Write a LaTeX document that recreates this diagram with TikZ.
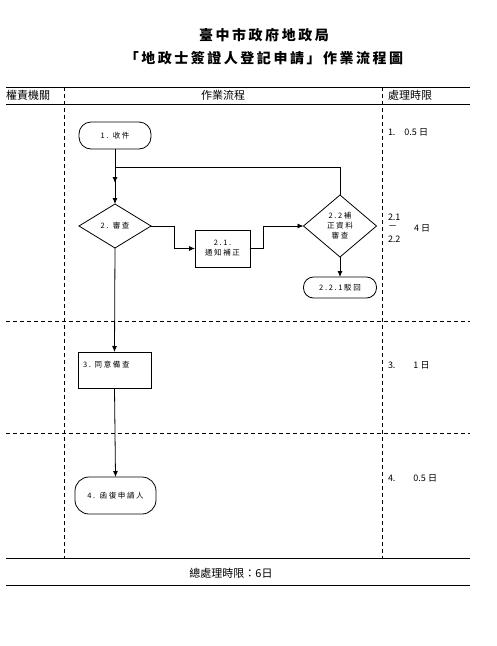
\documentclass[tikz,border=0pt]{standalone}
\usepackage{fontspec}
\setmainfont{Noto Sans CJK TC}
\newfontfamily\titlefont{Noto Sans CJK TC}[LetterSpace=18]
\newfontfamily\boxfont{Noto Sans CJK TC}[LetterSpace=22]
\usetikzlibrary{shapes.geometric,arrows.meta}
\begin{document}
\begin{tikzpicture}[x=1pt,y=-1pt,
  every node/.style={inner sep=0pt,outer sep=0pt},
  tline/.style={line width=0.8pt},
  dline/.style={line width=0.8pt,dash pattern=on 4pt off 3pt},
  conn/.style={line width=0.8pt},
  arr/.style={conn,-{Latex[length=6pt,width=5pt]}},
  bx/.style={draw,line width=0.8pt,font=\boxfont\fontsize{7.5}{10}\selectfont,align=center},
  term/.style={bx,rounded corners=12pt},
  dia/.style={bx,diamond,inner sep=0pt},
  htext/.style={font=\fontsize{11}{13}\selectfont},
  ttext/.style={font=\fontsize{9}{11}\selectfont,anchor=west}]
\useasboundingbox (0,0) rectangle (497,646);
% title
\node[font=\titlefont\bfseries\fontsize{14}{16}\selectfont] (t1) at (264,35) {臺中市政府地政局};
\node[font=\titlefont\bfseries\fontsize{14}{16}\selectfont] (t2) at (264,58) {「地政士簽證人登記申請」作業流程圖};
% table
\draw[tline] (6,87) -- (470,87);
\draw[tline] (6,104) -- (470,104);
\draw[tline] (6,558) -- (470,558);
\draw[tline] (6,585) -- (470,585);
\draw[dline] (64,87) -- (64,558);
\draw[dline] (382,87) -- (382,558);
\draw[dline] (6,321) -- (470,321);
\draw[dline] (6,433) -- (470,433);
\node[htext,anchor=west] (h1) at (6,95.5) {權責機關};
\node[htext] (h2) at (223,95.5) {作業流程};
\node[htext,anchor=west] (h3) at (388,95.5) {處理時限};
\node[htext] (tot) at (231,573) {總處理時限：6日};
% flow nodes
\node[term,minimum width=72pt,minimum height=27pt] (n1) at (115,135.5) {1. 收件};
\node[dia,minimum width=72pt,minimum height=44pt] (d2) at (115,226) {2. 審查};
\node[bx,minimum width=55pt,minimum height=37pt] (b21) at (222.5,248.5) {2.1.\\通知補正};
\node[dia,minimum width=73pt,minimum height=62pt] (d22) at (340,226) {2.2補\\正資料\\審查};
\node[term,minimum width=73pt,minimum height=21pt,rounded corners=10pt] (r221) at (340,287.5) {2.2.1駁回};
\node[bx,minimum width=73pt,minimum height=36pt,text width=63pt,align=left] (b3) at (114.5,370) {3. 同意備查\\[2pt]\,};
\node[term,minimum width=81pt,minimum height=37pt,rounded corners=14pt] (n4) at (115.5,495.5) {4. 函復申請人};
% connectors
\coordinate (j) at (115,167);
\coordinate (jend) at (115,183);
\draw[arr] (n1.south) -- (d2.north);
\draw[arr] (d22.north) |- (j) -- (jend);
\draw[arr] (d2.east) -- ++(23,0) |- (b21.west);
\draw[arr] (b21.east) -- ++(13,0) |- (d22.west);
\draw[arr] (d22.south) -- (r221.north);
\draw[arr] (d2.south) -- (b3.north);
\draw[arr] (b3.south) -- (n4.north);
% time limits
\node[ttext] (l1) at (388,132) {1.\quad 0.5 日};
\node[ttext] (l2a) at (388,217) {2.1};
\node[ttext] (l2b) at (388,228) {－};
\node[ttext] (l2c) at (388,239) {2.2};
\node[ttext] (l2d) at (414,228) {4 日};
\node[ttext] (l3) at (388,365) {3.\qquad 1 日};
\node[ttext] (l4) at (388,478) {4.\qquad 0.5 日};
\end{tikzpicture}
\end{document}
